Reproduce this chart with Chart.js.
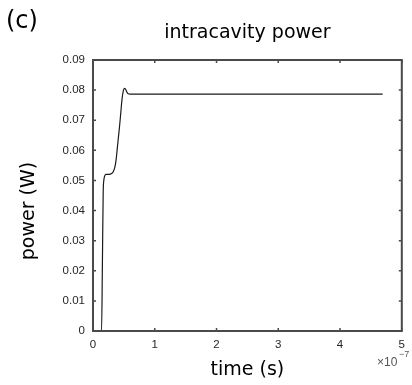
<!DOCTYPE html>
<html>
<head>
<meta charset="utf-8">
<script src="https://cdn.jsdelivr.net/npm/chart.js@4/dist/chart.umd.min.js"></script>
<style>
  html, body { margin: 0; padding: 0; background: #fff; }
  #wrap { width: 412px; height: 385px; }
</style>
</head>
<body>
<div id="wrap"><canvas id="Chart" width="412" height="385"></canvas></div>
<script>
// time in units of 1e-7 s, power in W
const times = [0, 0.139, 0.152, 0.165, 0.175, 0.19, 0.21, 0.26, 0.30, 0.33, 0.355, 0.375, 0.39, 0.41, 0.43, 0.45, 0.47, 0.49, 0.51, 0.53, 0.55, 0.57, 0.60, 0.70, 1.0, 2.0, 3.0, 4.0, 4.69]
const power = [0, 0, 0.022, 0.046, 0.050, 0.0515, 0.052, 0.052, 0.0523, 0.053, 0.0545, 0.057, 0.060, 0.064, 0.068, 0.0725, 0.077, 0.0797, 0.0806, 0.0802, 0.0793, 0.0788, 0.0787, 0.0787, 0.0787, 0.0787, 0.0787, 0.0787, 0.0787]
const xTicks = [0, 1, 2, 3, 4, 5]
const yTicks = [0, 0.01, 0.02, 0.03, 0.04, 0.05, 0.06, 0.07, 0.08, 0.09]

const axisColor = '#4a4a4a'
const textColor = '#262626'

// matlab style box: top/right border and inward ticks
const boxPlugin = {
    id: 'boxPlugin',
    afterDraw(chart) {
        const ctx = chart.ctx
        const a = chart.chartArea
        const xs = chart.scales.x
        const ys = chart.scales.y
        ctx.save()
        ctx.strokeStyle = axisColor
        ctx.lineWidth = 2
        ctx.strokeRect(a.left, a.top, a.right - a.left, a.bottom - a.top)
        ctx.lineWidth = 1.5
        ctx.beginPath()
        xTicks.forEach(function (t) {
            const px = xs.getPixelForValue(t)
            ctx.moveTo(px, a.bottom); ctx.lineTo(px, a.bottom - 3)
            ctx.moveTo(px, a.top); ctx.lineTo(px, a.top + 3)
        })
        yTicks.forEach(function (t) {
            const py = ys.getPixelForValue(t)
            ctx.moveTo(a.left, py); ctx.lineTo(a.left + 3, py)
            ctx.moveTo(a.right, py); ctx.lineTo(a.right - 3, py)
        })
        ctx.stroke()

        // panel label, y axis label, exponent
        ctx.fillStyle = '#000'
        ctx.font = '24px "DejaVu Sans"'
        ctx.textAlign = 'left'
        ctx.textBaseline = 'middle'
        ctx.fillText('(c)', 6, 22)

        ctx.save()
        ctx.translate(29, 211)
        ctx.rotate(-Math.PI / 2)
        ctx.textAlign = 'center'
        ctx.font = '19px "DejaVu Sans"'
        ctx.fillText('power (W)', 0, 0)
        ctx.restore()

        ctx.fillStyle = '#555'
        ctx.textAlign = 'left'
        ctx.font = '12px "Liberation Sans"'
        ctx.fillText('\u00d710', 377, 363)
        ctx.font = '9px "Liberation Sans"'
        ctx.fillText('\u22127', 399, 355)
        ctx.restore()
    }
}

const ctx = document.getElementById('Chart').getContext('2d')
const myChart = new Chart(ctx, {
    type: 'line',
    data: {
        datasets: [{
            data: times.map(function (t, i) { return {x: t, y: power[i]} }),
            borderColor: '#1a1a1a',
            borderWidth: 1.2,
            pointRadius: 0,
            cubicInterpolationMode: 'monotone',
            fill: false
        }]
    },
    options: {
        responsive: false,
        animation: false,
        layout: { padding: { left: 0, right: 6, top: 0, bottom: 0 } },
        plugins: {
            legend: { display: false },
            tooltip: { enabled: false },
            title: {
                display: true,
                text: 'intracavity power',
                fullSize: false,
                color: '#000',
                font: { family: 'DejaVu Sans', size: 19, weight: 'normal' },
                padding: { top: 22, bottom: 15.2 }
            }
        },
        scales: {
            x: {
                type: 'linear',
                min: 0,
                max: 5,
                grid: { display: false, drawTicks: false },
                border: { display: false },
                afterFit: function (scale) { scale.height = 54 },
                afterBuildTicks: function (scale) { scale.ticks = xTicks.map(function (v) { return {value: v} }) },
                ticks: {
                    color: textColor,
                    padding: 7,
                    maxRotation: 0,
                    font: { family: 'Liberation Sans', size: 11.5 },
                    callback: function (v) { return String(v) }
                },
                title: {
                    display: true,
                    text: 'time (s)',
                    color: '#000',
                    font: { family: 'DejaVu Sans', size: 19 },
                    padding: { top: 0, bottom: 4 }
                }
            },
            y: {
                min: 0,
                max: 0.09,
                grid: { display: false, drawTicks: false },
                border: { display: false },
                afterFit: function (scale) { scale.width = 93 },
                afterBuildTicks: function (scale) { scale.ticks = yTicks.map(function (v) { return {value: v} }) },
                ticks: {
                    color: textColor,
                    padding: 8,
                    font: { family: 'Liberation Sans', size: 11.5 },
                    callback: function (v) { return v === 0 ? '0' : v.toFixed(2) }
                }
            }
        }
    },
    plugins: [boxPlugin]
})
</script>
</body>
</html>
